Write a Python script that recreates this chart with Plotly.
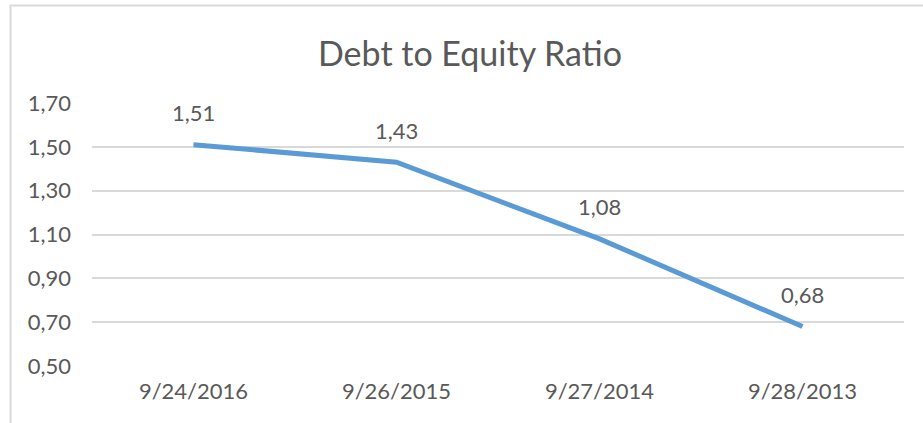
import plotly.graph_objects as go

dates = ["9/24/2016", "9/26/2015", "9/27/2014", "9/28/2013"]
ratio = [1.51, 1.43, 1.08, 0.68]
y_ticks = [0.50, 0.70, 0.90, 1.10, 1.30, 1.50, 1.70]
y_tick_labels = ["0,50", "0,70", "0,90", "1,10", "1,30", "1,50", "1,70"]
title_text = "Debt to Equity Ratio"
clipped_text = "play"  # partial word from the page above the chart

FONT = "Lato, 'Open Sans', sans-serif"
GRAY = "#595959"
GRID = "#d9d9d9"

OFF = 0  # page body margin removed via post_script
W, H = 923, 423
L, T = 92 - OFF, 103 - OFF
pw, ph = 812, 263
R, B = W - L - pw, H - T - ph

def px_x(x):
    return (x - OFF - L) / pw

def px_y(y):
    return (T + ph - (y - OFF)) / ph

fig = go.Figure()
fig.add_trace(go.Scatter(
    x=dates, y=ratio, mode="lines",
    line=dict(color="#5B9BD5", width=5),
    hoverinfo="skip",
))

for d, v in zip(dates, ratio):
    fig.add_annotation(
        x=d, y=v, text=f"{v:.2f}".replace(".", ","), showarrow=False,
        yshift=32, font=dict(family=FONT, size=22, color=GRAY),
    )

fig.add_annotation(
    xref="paper", yref="paper", x=px_x(470), y=px_y(52),
    text=title_text, showarrow=False, xanchor="center", yanchor="middle",
    font=dict(family=FONT, size=34, color=GRAY),
)

fig.add_annotation(
    xref="paper", yref="paper", x=px_x(99), y=px_y(1),
    text=f"<b>{clipped_text}</b>", showarrow=False, xanchor="left", yanchor="bottom",
    font=dict(family="Liberation Serif, serif", size=28, color="black"),
)

# chart frame (top and left edges)
fig.add_shape(type="line", xref="paper", yref="paper",
              x0=px_x(10), x1=px_x(940), y0=px_y(5.5), y1=px_y(5.5),
              line=dict(color=GRID, width=2))
fig.add_shape(type="line", xref="paper", yref="paper",
              x0=px_x(10.5), x1=px_x(10.5), y0=px_y(5), y1=px_y(440),
              line=dict(color=GRID, width=2))

fig.update_layout(
    width=W, height=H,
    margin=dict(l=L, r=R, t=T, b=B),
    paper_bgcolor="white", plot_bgcolor="white",
    showlegend=False,
    xaxis=dict(
        type="category", showgrid=False, zeroline=False, showline=False,
        ticks="", tickfont=dict(family=FONT, size=22, color=GRAY),
        range=[-0.5, 3.5], ticklabelstandoff=10,
    ),
    yaxis=dict(
        range=[0.5, 1.7], tickvals=y_ticks, ticktext=y_tick_labels,
        showgrid=True, gridcolor=GRID, gridwidth=2, zeroline=False,
        showline=False, ticks="", ticklabelstandoff=20,
        tickfont=dict(family=FONT, size=22, color=GRAY),
    ),
)

fig.write_html(
    "out.html",
    config={"displayModeBar": False},
    post_script="document.body.style.margin='0px';document.body.style.overflow='hidden';",
)
